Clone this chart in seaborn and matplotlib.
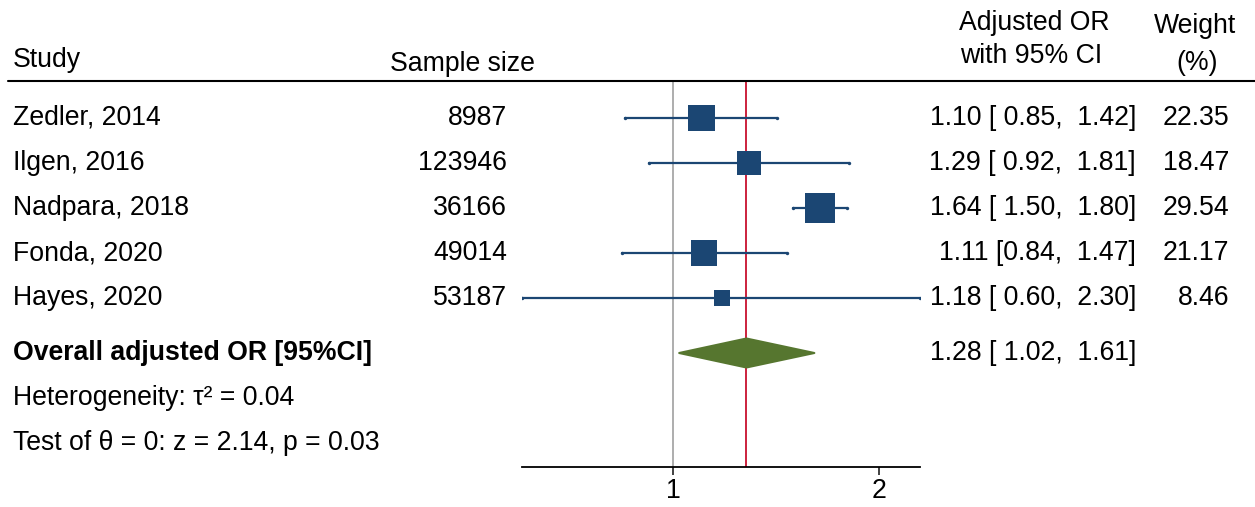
import matplotlib
matplotlib.use("Agg")
import matplotlib.pyplot as plt
import matplotlib.transforms as mtransforms
from matplotlib.lines import Line2D
import seaborn as sns
import pandas as pd

# ---- data ----
studies = ["Zedler, 2014", "Ilgen, 2016", "Nadpara, 2018", "Fonda, 2020", "Hayes, 2020"]
sample_size = [8987, 123946, 36166, 49014, 53187]
odds_ratio = [1.10, 1.29, 1.64, 1.11, 1.18]
ci_low = [0.85, 0.92, 1.50, 0.84, 0.60]
ci_high = [1.42, 1.81, 1.80, 1.47, 2.30]
weights = [22.35, 18.47, 29.54, 21.17, 8.46]
or_labels = ["1.10 [ 0.85,  1.42]", "1.29 [ 0.92,  1.81]", "1.64 [ 1.50,  1.80]",
             "1.11 [0.84,  1.47]", "1.18 [ 0.60,  2.30]"]
weight_labels = ["22.35", "18.47", "29.54", "21.17", "8.46"]
overall_or = 1.28
overall_low = 1.02
overall_high = 1.61
overall_label = "1.28 [ 1.02,  1.61]"
x_ticks = [1, 2]
x_tick_labels = ["1", "2"]

# ---- style ----
sns.set_style("white")
plt.rcParams["font.family"] = ["Liberation Sans", "DejaVu Sans"]
plt.rcParams["text.color"] = "black"
plt.rcParams["xtick.color"] = "black"
plt.rcParams["xtick.labelcolor"] = "black"
FS = 19.2
navy = "#1b4673"
green = "#56762f"
red = "#c8102e"

W, H = 1255, 507
fig = plt.figure(figsize=(W / 100, H / 100), dpi=100)

# row geometry (row units; 45 px per row)
row_px = 45.0
first_px = 118.0
top_px, bot_px = 81.0, 467.0
def row_of(px):
    return (px - first_px) / row_px

rows = list(range(len(studies)))
overall_y = row_of(353)
het_y = row_of(398)
test_y = row_of(443)

ax = fig.add_axes([522 / W, (H - bot_px) / H, (920 - 522) / W, (bot_px - top_px) / H])

df = pd.DataFrame({"study": studies, "or": odds_ratio, "lo": ci_low, "hi": ci_high,
                   "w": weights, "row": rows})

# reference lines
ax.axvline(1, color="#a0a0a0", lw=1.2, zorder=1)
ax.axvline(overall_or, color=red, lw=1.3, zorder=1)

# CI lines
ax.hlines(df["row"], df["lo"], df["hi"], color=navy, lw=1.6, capstyle="round", zorder=2)
ax.scatter(df["lo"], df["row"], s=6, color=navy, zorder=2, linewidths=0)
ax.scatter(df["hi"], df["row"], s=6, color=navy, zorder=2, linewidths=0)

# squares (area proportional to weight)
k = 16.0
sns.scatterplot(data=df, x="or", y="row", size="w",
                sizes=(k * min(weights), k * max(weights)),
                marker="s", color=navy, linewidth=0, legend=False, ax=ax, zorder=3)

# overall diamond
h = 14.5 / row_px
ax.fill([overall_low, overall_or, overall_high, overall_or],
        [overall_y, overall_y - h, overall_y, overall_y + h],
        facecolor=green, edgecolor=green, lw=1.5, joinstyle="round", zorder=3)

ax.set_xscale("log")
ax.set_xlim(0.60, 2.30)
ax.set_ylim(row_of(bot_px), row_of(top_px))
ax.set_xticks(x_ticks)
ax.set_xticklabels(x_tick_labels)
ax.xaxis.set_minor_locator(matplotlib.ticker.NullLocator())
ax.set_yticks([])
ax.set_xlabel("")
ax.set_ylabel("")
for s in ["top", "right", "left"]:
    ax.spines[s].set_visible(False)
ax.spines["bottom"].set_color("black")
ax.spines["bottom"].set_linewidth(1.3)
ax.tick_params(axis="x", bottom=True, length=6, width=1.3, color="#333333",
               labelsize=FS, labelcolor="black", pad=2, direction="out")
ax.patch.set_alpha(0)

# text transforms: x in figure pixels, y in row units, baseline shifted down 7px
blend = mtransforms.blended_transform_factory(fig.transFigure, ax.transData)
tr = mtransforms.offset_copy(blend, fig=fig, x=0, y=-7 * 72 / 100, units="points")

def px(x):
    return x / W

for r, name, n, orl, wl in zip(rows, studies, sample_size, or_labels, weight_labels):
    fig.text(px(13), r, name, transform=tr, fontsize=FS, ha="left", va="baseline")
    fig.text(px(507), r, str(n), transform=tr, fontsize=FS, ha="right", va="baseline")
    fig.text(px(1136), r, orl, transform=tr, fontsize=FS, ha="right", va="baseline")
    fig.text(px(1229), r, wl, transform=tr, fontsize=FS, ha="right", va="baseline")

fig.text(px(13), overall_y, "Overall adjusted OR [95%CI]", transform=tr, fontsize=FS,
         fontweight="bold", ha="left", va="baseline")
fig.text(px(1136), overall_y, overall_label, transform=tr, fontsize=FS, ha="right", va="baseline")
fig.text(px(13), het_y, "Heterogeneity: τ² = 0.04", transform=tr, fontsize=FS,
         ha="left", va="baseline")
fig.text(px(13), test_y, "Test of θ = 0: z = 2.14, p = 0.03", transform=tr, fontsize=FS,
         ha="left", va="baseline")

# headers (pixel positions converted to figure fractions)
def fy(y):
    return 1 - y / H

fig.text(px(13), fy(67), "Study", fontsize=FS, ha="left", va="baseline")
fig.text(px(462), fy(71), "Sample size", fontsize=FS, ha="center", va="baseline")
fig.text(px(1034), fy(30), "Adjusted OR", fontsize=FS, ha="center", va="baseline")
fig.text(px(1031), fy(63), "with 95% CI", fontsize=FS, ha="center", va="baseline")
fig.text(px(1195), fy(33), "Weight", fontsize=FS, ha="center", va="baseline")
fig.text(px(1197), fy(70), "(%)", fontsize=FS, ha="center", va="baseline")

fig.add_artist(Line2D([px(8), 1.0], [fy(80.5), fy(80.5)], transform=fig.transFigure,
                      color="black", lw=1.5))

fig.savefig("out.png", dpi=100, facecolor="white")
